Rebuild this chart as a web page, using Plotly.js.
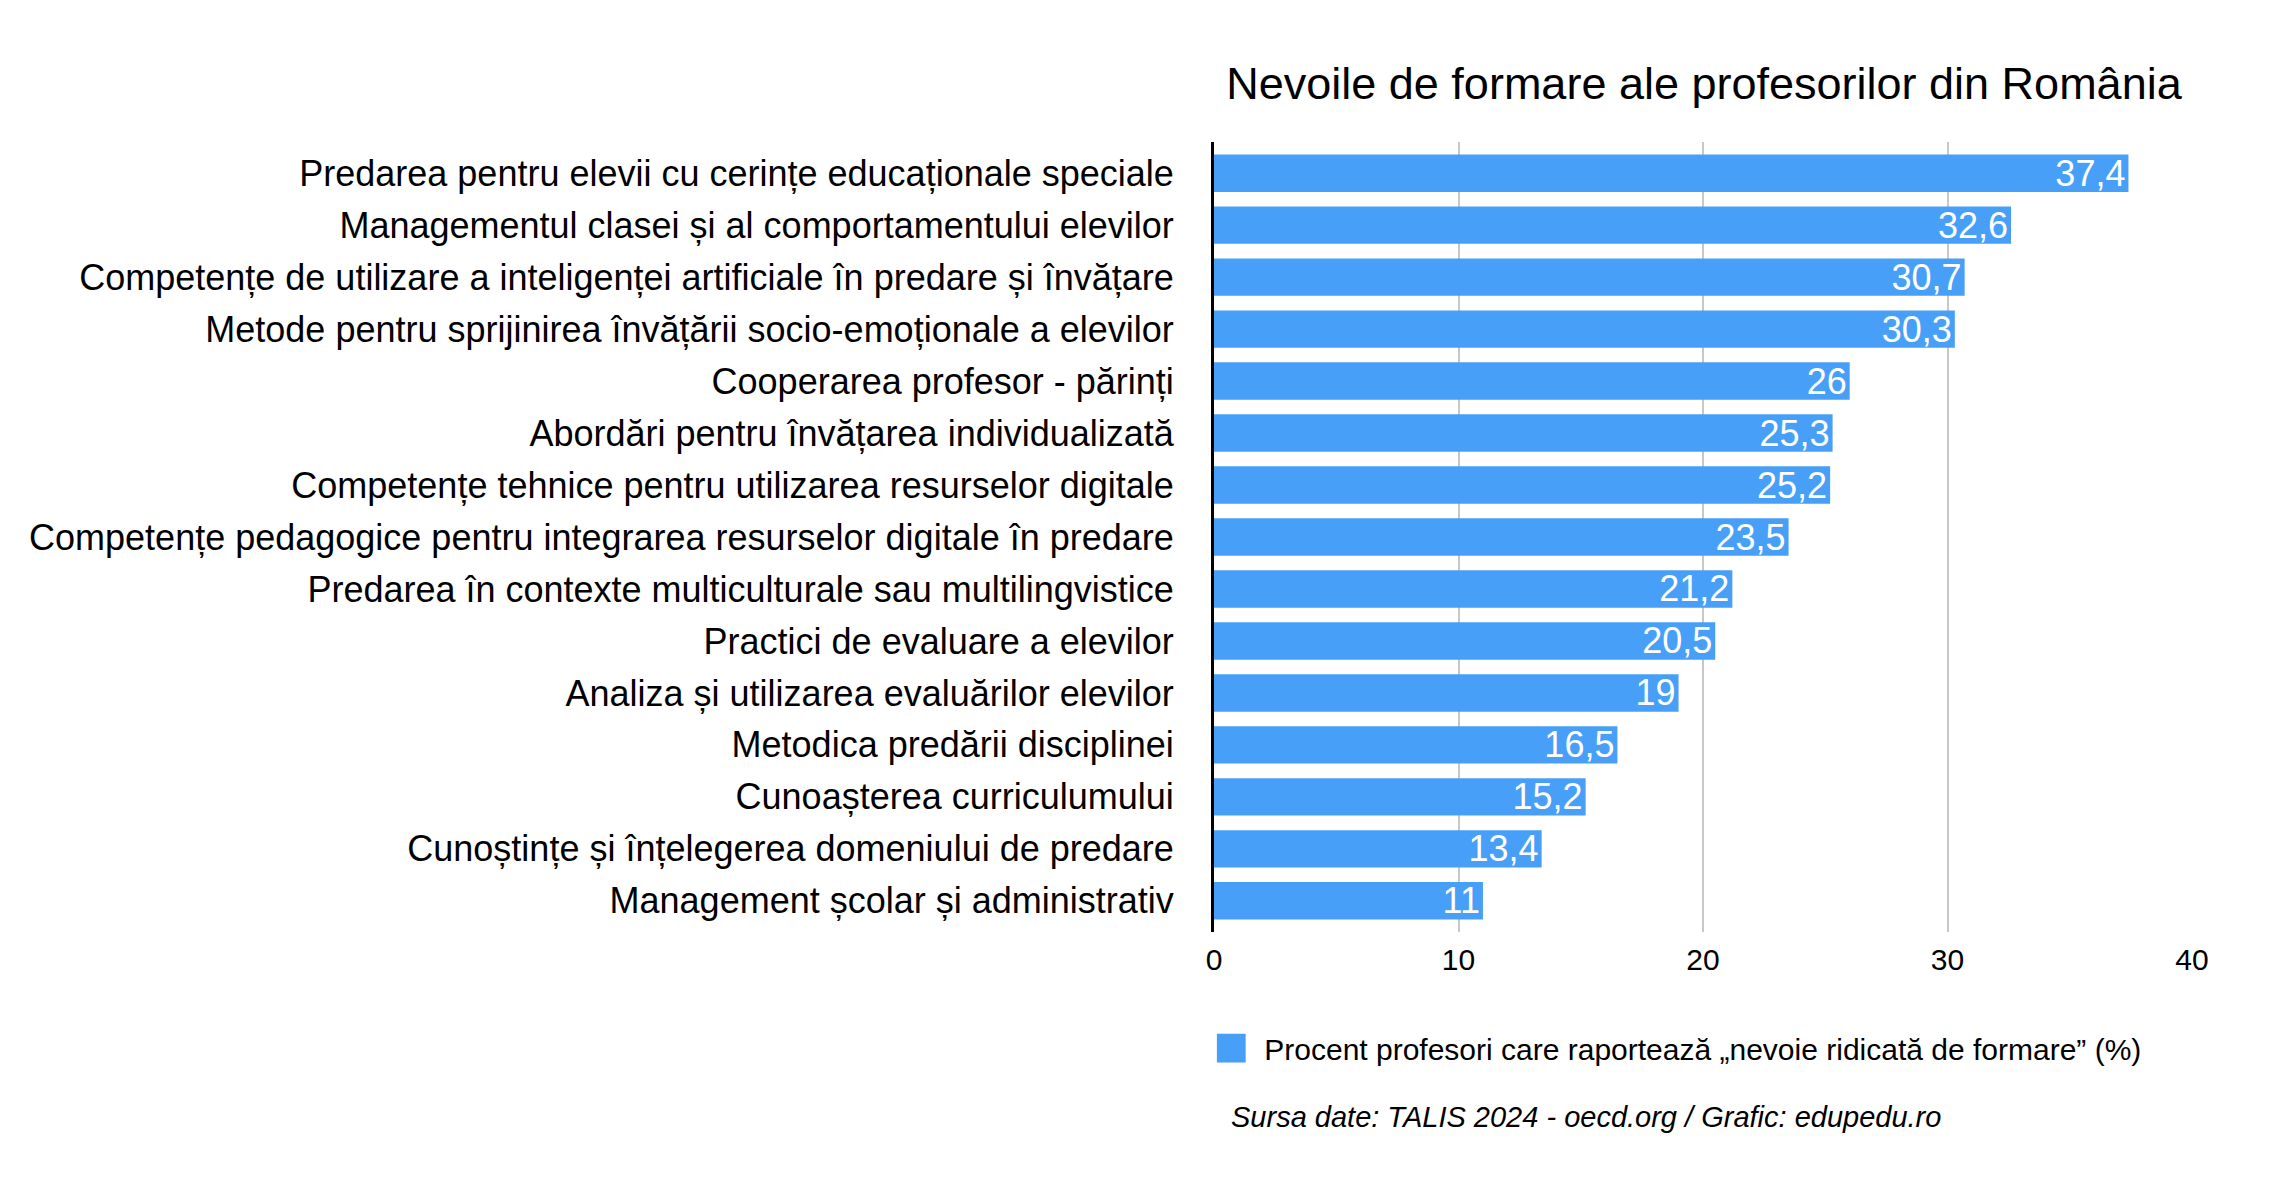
<!DOCTYPE html>
<html>
<head>
<meta charset="utf-8">
<script src="https://cdn.plot.ly/plotly-3.0.1.min.js"></script>
<style>
  html, body { margin: 0; padding: 0; background: #ffffff; }
  #chart { width: 2275px; height: 1204px; }
</style>
</head>
<body>
<div id="chart"></div>
<script>
const categories = [
  "Predarea pentru elevii cu cerințe educaționale speciale",
  "Managementul clasei și al comportamentului elevilor",
  "Competențe de utilizare a inteligenței artificiale în predare și învățare",
  "Metode pentru sprijinirea învățării socio-emoționale a elevilor",
  "Cooperarea profesor - părinți",
  "Abordări pentru învățarea individualizată",
  "Competențe tehnice pentru utilizarea resurselor digitale",
  "Competențe pedagogice pentru integrarea resurselor digitale în predare",
  "Predarea în contexte multiculturale sau multilingvistice",
  "Practici de evaluare a elevilor",
  "Analiza și utilizarea evaluărilor elevilor",
  "Metodica predării disciplinei",
  "Cunoașterea curriculumului",
  "Cunoștințe și înțelegerea domeniului de predare",
  "Management școlar și administrativ"
];
const values = [37.4, 32.6, 30.7, 30.3, 26, 25.3, 25.2, 23.5, 21.2, 20.5, 19, 16.5, 15.2, 13.4, 11];
const xTicks = [0, 10, 20, 30, 40];
const seriesName = "Procent profesori care raportează „nevoie ridicată de formare” (%)";
const chartTitle = "Nevoile de formare ale profesorilor din România";
const sourceText = "Sursa date: TALIS 2024 - oecd.org / Grafic: edupedu.ro";

const FONT = "Liberation Sans, Arial, Helvetica, sans-serif";
const BLUE = "#489FF7";

const labels = values.map(v => String(v).replace('.', ','));

const trace = {
  type: 'bar',
  orientation: 'h',
  x: values,
  y: categories,
  name: seriesName,
  marker: { color: BLUE, line: { width: 0 } },
  text: labels,
  textposition: 'inside',
  insidetextanchor: 'end',
  constraintext: 'none',
  textangle: 0,
  textfont: { family: FONT, size: 36, color: '#ffffff' },
  hoverinfo: 'x+y',
  cliponaxis: false
};

const layout = {
  width: 2275,
  height: 1204,
  paper_bgcolor: '#ffffff',
  plot_bgcolor: '#ffffff',
  separators: ',.',
  margin: { l: 1214, r: 83, t: 142, b: 272, pad: 0 },
  font: { family: FONT, color: '#000000' },
  title: {
    text: chartTitle,
    font: { family: FONT, size: 45, color: '#000000' },
    x: 0.749, xref: 'container', xanchor: 'center',
    y: 0.931, yref: 'container', yanchor: 'middle'
  },
  bargap: 0.28,
  xaxis: {
    range: [0, 40],
    tickvals: xTicks,
    ticktext: xTicks.map(String),
    showgrid: true,
    gridcolor: '#c8c8c8',
    gridwidth: 2,
    zeroline: false,
    showline: false,
    ticks: '',
    ticklabelstandoff: 7,
    tickfont: { family: FONT, size: 30, color: '#000000' },
    fixedrange: true
  },
  yaxis: {
    type: 'category',
    categoryorder: 'array',
    categoryarray: categories,
    range: [14.6, -0.6],
    showgrid: false,
    zeroline: false,
    showline: true,
    linecolor: '#000000',
    linewidth: 3,
    ticks: '',
    ticklabelstandoff: 30,
    tickfont: { family: FONT, size: 36, color: '#000000' },
    fixedrange: true
  },
  showlegend: true,
  legend: {
    orientation: 'h',
    x: 0.0105, xref: 'paper', xanchor: 'left',
    y: -0.147, yref: 'paper', yanchor: 'middle',
    font: { family: FONT, size: 30, color: '#000000' },
    bgcolor: 'rgba(0,0,0,0)'
  },
  annotations: [{
    text: '<i>' + sourceText + '</i>',
    xref: 'paper', yref: 'paper',
    x: 0.015, y: -0.234,
    xanchor: 'left', yanchor: 'middle',
    showarrow: false,
    font: { family: FONT, size: 29, color: '#000000' }
  }]
};

Plotly.newPlot('chart', [trace], layout, { displayModeBar: false, responsive: false }).then(gd => {
  // enlarge the legend swatch to match the reference's square key
  gd.querySelectorAll('.legend .legendpoints path').forEach(p => {
    p.setAttribute('transform', 'translate(7,0) scale(2.4)');
    p.style.strokeWidth = '0';
  });
  const clip = gd.querySelector('.legend .scrollbox');
  if (clip) clip.removeAttribute('clip-path');
});
</script>
</body>
</html>
